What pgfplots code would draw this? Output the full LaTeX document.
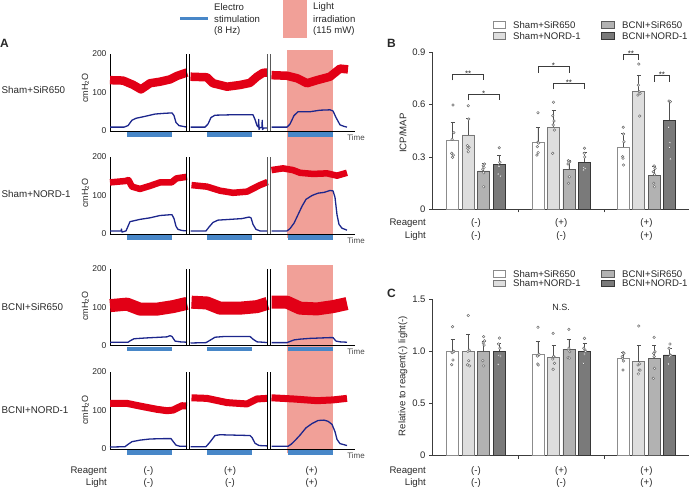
\documentclass[border=0pt]{standalone}
\usepackage{pgfplots}
\usepackage{pgfplotstable}
\pgfplotsset{compat=1.18}
\usepackage{fontspec}
\setmainfont{Liberation Sans}

\definecolor{txt}{RGB}{40,40,40}
\definecolor{tred}{RGB}{226,0,22}
\definecolor{tblue}{RGB}{28,38,140}
\definecolor{stim}{RGB}{72,135,200}
\definecolor{pinkL}{RGB}{241,160,152}
\definecolor{fW}{RGB}{255,255,255}
\definecolor{fL}{RGB}{222,222,222}
\definecolor{fM}{RGB}{178,178,178}
\definecolor{fD}{RGB}{122,122,122}
\definecolor{eW}{RGB}{140,140,140}
\definecolor{eL}{RGB}{120,120,120}
\definecolor{eM}{RGB}{90,90,90}
\definecolor{eD}{RGB}{55,55,55}
\definecolor{axc}{RGB}{60,60,60}
\definecolor{errc}{RGB}{80,80,80}
\definecolor{dotc}{RGB}{110,110,110}

\newcommand{\fs}[1]{\fontsize{#1}{#1}\selectfont}

\tikzset{brk/.style={black, line width=0.7pt}}
\pgfplotsset{
  trace/.style={scale only axis, width=245pt, height=77pt, xmin=110, xmax=355, ymin=0, ymax=200,
    axis x line=bottom, axis y line=left, axis line style={-, black, line width=0.7pt},
    xtick=\empty, ytick={0,100,200}, major tick length=0pt,
    yticklabel style={font=\fs{8.5}, text=txt},
    /pgf/number format/assume math mode=true,
    clip=false, anchor=south west},
  rtr/.style={tred, line width=#1, line join=round},
  btr/.style={tblue, line width=1.3pt, line join=round},
  stimbar/.style={stim, line width=4.5pt},
  barax/.style={scale only axis, width=257pt, xmin=-0.516, xmax=2.499, ymin=0,
    axis x line=bottom, axis y line=left, axis line style={-, axc, line width=0.7pt},
    xtick={0.5,1.5}, xticklabels={}, tick align=outside, major tick length=3pt,
    tick style={axc, line width=0.7pt},
    yticklabel style={font=\fs{9.5}, text=txt},
    /pgf/number format/assume math mode=true,
    clip=false, anchor=south west},
  bb/.style 2 args={ybar, bar width=12pt, fill=#1, draw=#2, line width=0.8pt,
    error bars/.cd, y dir=plus, y explicit,
    error bar style={errc, line width=0.7pt},
    error mark options={errc, rotate=90, mark size=2pt, line width=0.7pt}},
  dots/.style={only marks, mark=*, mark size=1.3pt, mark options={fill=white, draw=dotc, line width=0.5pt}},
  sig/.style={axc, line width=0.7pt},
}

\pgfplotstableread{
xw w we xl l le xm m me xd d de
-0.273 0.397 0.101 -0.090 0.426 0.095 0.090 0.220 0.044 0.273 0.258 0.049
0.727 0.386 0.084 0.910 0.470 0.095 1.090 0.231 0.052 1.273 0.271 0.054
1.727 0.357 0.078 1.910 0.677 0.092 2.090 0.197 0.052 2.273 0.511 0.109
}\Bdata

\pgfplotstableread{
xw w we xl l le xm m me xd d de
-0.273 1.000 0.115 -0.090 1.000 0.166 0.090 1.000 0.100 0.273 1.000 0.077
0.727 0.971 0.125 0.910 0.943 0.111 1.090 1.022 0.093 1.273 1.000 0.073
1.727 0.929 0.061 1.910 0.900 0.157 2.090 0.933 0.124 2.273 0.965 0.060
}\Cdata

\begin{document}
\begin{tikzpicture}
\useasboundingbox (0,0) rectangle (690pt,489pt);

% ---------- pink light areas ----------
\fill[pinkL] (287pt,251pt) rectangle (333pt,439pt);
\fill[pinkL] (287pt,36pt) rectangle (333pt,224pt);
\fill[pinkL] (283pt,451pt) rectangle (307pt,489pt);

% ---------- top legend A ----------
\draw[stim, line width=3pt] (180pt,470pt) -- (208pt,470pt);
\begin{scope}[every node/.style={font=\fs{9.6}, text=txt, anchor=west, inner sep=0pt}]
\node at (214pt,482pt) {Electro};
\node at (214pt,470pt) {stimulation};
\node at (214pt,458pt) {(8 Hz)};
\node at (313pt,482pt) {Light};
\node at (313pt,470pt) {irradiation};
\node at (313pt,458pt) {(115 mW)};
\end{scope}

% ---------- panel letters ----------
\node[anchor=west, inner sep=0pt, font=\fs{12}\bfseries, text=txt] at (0pt,445.5pt) {A};
\node[anchor=west, inner sep=0pt, font=\fs{12}\bfseries, text=txt] at (387pt,445.5pt) {B};
\node[anchor=west, inner sep=0pt, font=\fs{12}\bfseries, text=txt] at (387pt,196pt) {C};

% ---------- row labels ----------
\begin{scope}[every node/.style={font=\fs{9.8}, text=txt, anchor=west, inner sep=0pt}]
\node at (1.5pt,399pt) {Sham+SiR650};
\node at (1.5pt,294.5pt) {Sham+NORD-1};
\node at (1.5pt,182pt) {BCNI+SiR650};
\node at (1.5pt,79pt) {BCNI+NORD-1};
\end{scope}
\begin{scope}[every node/.style={font=\fs{9}, text=txt, rotate=90, inner sep=0pt}]
\node at (85.5pt,401pt) {cmH\textsubscript{2}O};
\node at (85.5pt,296pt) {cmH\textsubscript{2}O};
\node at (85.5pt,183pt) {cmH\textsubscript{2}O};
\node at (85.5pt,79pt) {cmH\textsubscript{2}O};
\end{scope}

% ---------- Row 1 ----------
\begin{axis}[trace, at={(110pt,358pt)}]
\addplot[rtr=8.5pt] coordinates {(110,132) (123,131) (133,120) (141,108) (150,124) (160,128) (170,134) (177,143) (187,152)};
\addplot[rtr=8.5pt] coordinates {(190.5,141) (207,139.5) (213,124) (227,115) (240,119.5) (250,125) (257,141) (263,151) (267.5,152)};
\addplot[rtr=8.5pt] coordinates {(271.5,145) (287,143.5) (297,137) (307,124) (317,132) (330,141) (340,162) (348,160)};
\addplot[btr] coordinates {(110,10) (124,10) (128,14) (132,28) (136,33) (145,38) (155,44) (165,46) (172,47) (174,40) (176,22) (179,14) (187,10)};
\addplot[btr] coordinates {(190.5,10) (205,10) (208,18) (211,35) (215,41) (230,42) (245,42) (253,42) (255,30) (257,14) (258.5,10) (258.7,30) (259,4) (260,9) (262,9) (262.2,28) (262.5,4) (264,8) (267.5,8)};
\addplot[btr] coordinates {(271.5,10) (287,10) (290,18) (294,40) (298,50) (310,50) (320,54) (330,55) (333,52) (336,35) (340,16) (344,12) (347,10)};
\addplot[stimbar] coordinates {(127,-9) (172,-9)};
\addplot[stimbar] coordinates {(207,-9) (252,-9)};
\addplot[stimbar] coordinates {(288,-9) (333,-9)};
\draw[brk] (axis cs:186.8,0) -- (axis cs:186.8,200);
\draw[brk] (axis cs:189.3,0) -- (axis cs:189.3,200);
\draw[brk, gray!70!black] (axis cs:267.8,0) -- (axis cs:267.8,200);
\draw[brk, gray!70!black] (axis cs:270.3,0) -- (axis cs:270.3,200);
\node[font=\fs{8}, text=txt!85, inner sep=0pt] at (axis cs:356,-16) {Time};
\end{axis}

% ---------- Row 2 ----------
\begin{axis}[trace, at={(110pt,255pt)}]
\addplot[rtr=6.5pt] coordinates {(110,134) (125,137.5) (128.5,140) (132,123) (140,117) (150,125) (160,134) (171.5,134) (176.5,144.5) (187,148.5)};
\addplot[rtr=6.5pt] coordinates {(191.5,127) (207,123) (220,112.5) (233,107) (247,110) (260,127) (267.5,135)};
\addplot[rtr=6.5pt] coordinates {(271.5,166) (283,170.5) (293,166) (300,159) (313,156) (327,157.5) (337,151.5) (347,159)};
\addplot[btr] coordinates {(110,8) (121,8) (121.5,13) (122,5) (126,8) (128,20) (130,32) (140,38) (150,42) (160,48) (170,50) (172,50) (174,40) (176,20) (178,12) (182,9) (187,8)};
\addplot[btr] coordinates {(190.5,8) (206,8) (209,18) (213,30) (218,36) (230,38) (242,40) (249,44) (251,42) (253,25) (256,12) (260,8) (267.5,8)};
\addplot[btr] coordinates {(271.5,8) (287,8) (290,14) (294,28) (298,50) (302,72) (306,90) (312,100) (318,106) (324,108) (330,113) (333,112) (335,95) (337,50) (339,25) (342,15) (347,10)};
\addplot[stimbar] coordinates {(127,-9) (172,-9)};
\addplot[stimbar] coordinates {(207,-9) (252,-9)};
\addplot[stimbar] coordinates {(288,-9) (333,-9)};
\draw[brk] (axis cs:186.8,0) -- (axis cs:186.8,200);
\draw[brk] (axis cs:189.3,0) -- (axis cs:189.3,200);
\draw[brk, gray!70!black] (axis cs:267.8,0) -- (axis cs:267.8,200);
\draw[brk, gray!70!black] (axis cs:270.3,0) -- (axis cs:270.3,200);
\node[font=\fs{8}, text=txt!85, inner sep=0pt] at (axis cs:356,-16) {Time};
\end{axis}

% ---------- Row 3 ----------
\begin{axis}[trace, at={(110pt,143.3pt)}]
\addplot[rtr=13pt] coordinates {(110,104) (127,108) (140,95) (157,95) (173,101.5) (187,110)};
\addplot[rtr=13pt] coordinates {(191.5,113) (207,111) (220,97.5) (240,97.5) (257,101.5) (267.5,110)};
\addplot[rtr=13pt] coordinates {(271.5,113) (287,113) (300,97.5) (317,95.5) (333,101.5) (347,109.5)};
\addplot[btr] coordinates {(110,9) (128,9) (131,14) (134,18) (145,20) (160,22) (167,23) (170,26) (172,24) (175,12) (180,10) (187,9)};
\addplot[btr] coordinates {(190.5,7) (206,8) (210,14) (215,22) (225,24) (240,24) (250,24) (253,17) (257,10) (263,9) (267.5,8)};
\addplot[btr] coordinates {(271.5,8) (287,8) (290,11) (294,15) (300,17) (310,19) (320,20) (330,21) (333,21) (336,12) (340,10) (347,9)};
\addplot[stimbar] coordinates {(127,-9) (172,-9)};
\addplot[stimbar] coordinates {(207,-9) (252,-9)};
\addplot[stimbar] coordinates {(288,-9) (333,-9)};
\draw[brk] (axis cs:186.8,0) -- (axis cs:186.8,200);
\draw[brk] (axis cs:189.3,0) -- (axis cs:189.3,200);
\draw[brk] (axis cs:267.8,0) -- (axis cs:267.8,200);
\draw[brk] (axis cs:270.3,0) -- (axis cs:270.3,200);
\node[font=\fs{8}, text=txt!85, inner sep=0pt] at (axis cs:356,-16) {Time};
\end{axis}

% ---------- Row 4 ----------
\begin{axis}[trace, at={(110pt,40pt)}]
\addplot[rtr=7pt] coordinates {(110,118.5) (127,118.5) (140,111.5) (157,103) (167,99.5) (173,101) (182,112.5) (187,111.5)};
\addplot[rtr=7pt] coordinates {(191.5,133) (207,131.5) (227,120.5) (247,117) (257,130) (267.5,131.5)};
\addplot[rtr=7pt] coordinates {(271.5,133) (293,130) (317,125.5) (333,127.5) (347,131.5)};
\addplot[btr] coordinates {(110,5) (125,6) (128,12) (132,19) (140,23) (150,26) (165,27) (171,27) (173,20) (176,10) (180,7) (187,7)};
\addplot[btr] coordinates {(190.5,6) (206,6) (210,18) (215,35) (220,37) (235,36) (250,35) (252,30) (255,15) (259,9) (267.5,8)};
\addplot[btr] coordinates {(271.5,7) (288,7) (291,12) (295,22) (300,36) (306,55) (312,66) (318,74) (324,75) (328,72) (332,64) (335,45) (337,25) (340,14) (347,9)};
\addplot[stimbar] coordinates {(127,-9) (172,-9)};
\addplot[stimbar] coordinates {(207,-9) (252,-9)};
\addplot[stimbar] coordinates {(288,-9) (333,-9)};
\draw[brk] (axis cs:186.8,0) -- (axis cs:186.8,200);
\draw[brk] (axis cs:189.3,0) -- (axis cs:189.3,200);
\draw[brk] (axis cs:267.8,0) -- (axis cs:267.8,200);
\draw[brk] (axis cs:270.3,0) -- (axis cs:270.3,200);
\node[font=\fs{8}, text=txt!85, inner sep=0pt] at (axis cs:356,-16) {Time};
\end{axis}

% Reagent / Light rows for A
\begin{scope}[every node/.style={font=\fs{9.6}, text=txt, inner sep=0pt}]
\node[anchor=east] at (107pt,18pt) {Reagent};
\node[anchor=east] at (107pt,6pt) {Light};
\node at (148.5pt,18pt) {(-)}; \node at (148.5pt,6pt) {(-)};
\node at (230pt,18pt) {(+)};  \node at (230pt,6pt) {(-)};
\node at (311.5pt,18pt) {(+)}; \node at (311.5pt,6pt) {(+)};
\end{scope}

% ---------- Panel B ----------
\begin{axis}[barax, at={(432pt,279.5pt)}, height=157.5pt, ymax=0.9,
  ytick={0,0.3,0.6,0.9}, yticklabels={0,0.3,0.6,0.9}]
\addplot[bb={fW}{eW}] table[x=xw, y=w, y error=we] {\Bdata};
\addplot[bb={fL}{eL}] table[x=xl, y=l, y error=le] {\Bdata};
\addplot[bb={fM}{eM}] table[x=xm, y=m, y error=me] {\Bdata};
\addplot[bb={fD}{eD}] table[x=xd, y=d, y error=de] {\Bdata};
\addplot[dots] coordinates {
(-0.27,0.597) (-0.26,0.439) (-0.28,0.401) (-0.285,0.321) (-0.265,0.311) (-0.275,0.298)
(-0.09,0.593) (-0.085,0.517) (-0.1,0.365) (-0.08,0.355) (-0.095,0.35) (-0.09,0.33)
(0.1,0.26) (0.085,0.25) (0.095,0.24) (0.08,0.23) (0.09,0.21) (0.09,0.13)
(0.273,0.353) (0.28,0.27) (0.265,0.25) (0.27,0.245) (0.26,0.203) (0.285,0.191)
(0.727,0.553) (0.725,0.384) (0.735,0.38) (0.72,0.359) (0.73,0.325) (0.715,0.311)
(0.91,0.613) (0.9,0.536) (0.915,0.506) (0.905,0.483) (0.92,0.454) (0.9,0.321)
(1.085,0.279) (1.1,0.273) (1.09,0.27) (1.095,0.187) (1.085,0.15) (1.08,0.26)
(1.273,0.35) (1.27,0.321) (1.265,0.241) (1.28,0.235) (1.26,0.226) (1.275,0.3)
(1.727,0.47) (1.73,0.431) (1.735,0.387) (1.72,0.302) (1.725,0.293) (1.73,0.254)
(1.91,0.831) (1.905,0.711) (1.915,0.673) (1.925,0.664) (1.9,0.654) (1.92,0.534)
(2.09,0.249) (2.1,0.235) (2.08,0.216) (2.095,0.2) (2.085,0.15) (2.095,0.13)
(2.265,0.62) (2.28,0.616) (2.26,0.47) (2.275,0.384) (2.27,0.355) (2.28,0.289)};
% significance brackets
\addplot[sig] coordinates {(-0.273,0.738) (-0.273,0.773) (0.09,0.773) (0.09,0.738)};
\addplot[sig] coordinates {(-0.09,0.623) (-0.09,0.658) (0.273,0.658) (0.273,0.623)};
\addplot[sig] coordinates {(0.727,0.781) (0.727,0.816) (1.09,0.816) (1.09,0.781)};
\addplot[sig] coordinates {(0.91,0.686) (0.91,0.721) (1.273,0.721) (1.273,0.686)};
\addplot[sig] coordinates {(1.727,0.854) (1.727,0.889) (1.91,0.889) (1.91,0.854)};
\addplot[sig] coordinates {(2.09,0.73) (2.09,0.765) (2.273,0.765) (2.273,0.73)};
\begin{scope}[every node/.style={font=\fs{8}, text=txt, anchor=base, inner sep=0pt}]
\node[yshift=-2.2pt] at (axis cs:-0.091,0.773) {**};
\node[yshift=-2.2pt] at (axis cs:0.091,0.658) {*};
\node[yshift=-2.2pt] at (axis cs:0.909,0.816) {*};
\node[yshift=-2.2pt] at (axis cs:1.091,0.721) {**};
\node[yshift=-2.2pt] at (axis cs:1.818,0.889) {**};
\node[yshift=-2.2pt] at (axis cs:2.182,0.765) {**};
\end{scope}
\begin{scope}[every node/.style={font=\fs{9.6}, text=txt, inner sep=0pt}]
\node[yshift=-14pt] at (axis cs:0,0) {(-)};  \node[yshift=-27pt] at (axis cs:0,0) {(-)};
\node[yshift=-14pt] at (axis cs:1,0) {(+)};  \node[yshift=-27pt] at (axis cs:1,0) {(-)};
\node[yshift=-14pt] at (axis cs:2,0) {(+)};  \node[yshift=-27pt] at (axis cs:2,0) {(+)};
\end{scope}
\end{axis}

% ---------- Panel C ----------
\begin{axis}[barax, at={(432pt,33.3pt)}, height=156.6pt, ymax=1.5,
  ytick={0,0.5,1,1.5}, yticklabels={0,0.5,1.0,1.5}]
\addplot[bb={fW}{eW}] table[x=xw, y=w, y error=we] {\Cdata};
\addplot[bb={fL}{eL}] table[x=xl, y=l, y error=le] {\Cdata};
\addplot[bb={fM}{eM}] table[x=xm, y=m, y error=me] {\Cdata};
\addplot[bb={fD}{eD}] table[x=xd, y=d, y error=de] {\Cdata};
\addplot[dots] coordinates {
(-0.275,1.236) (-0.265,0.996) (-0.28,0.987) (-0.27,0.917) (-0.285,0.872) (-0.26,1.0)
(-0.09,1.343) (-0.08,1.01) (-0.095,1.0) (-0.085,0.91) (-0.1,0.87) (-0.075,0.86)
(0.09,1.14) (0.1,1.10) (0.085,1.08) (0.095,1.06) (0.08,0.91) (0.09,0.86)
(0.275,1.127) (0.265,1.07) (0.28,1.03) (0.27,0.958) (0.285,0.955) (0.26,0.875)
(0.727,1.23) (0.735,0.964) (0.72,0.955) (0.725,0.878) (0.73,0.869) (0.74,0.97)
(0.905,1.172) (0.915,0.948) (0.9,0.926) (0.92,0.885) (0.905,0.828) (0.91,0.95)
(1.09,1.21) (1.085,1.012) (1.1,0.996) (1.08,0.939) (1.095,0.935) (1.09,1.03)
(1.273,1.124) (1.265,1.029) (1.28,1.012) (1.27,0.974) (1.26,0.885) (1.285,1.0)
(1.727,0.987) (1.735,0.981) (1.72,0.933) (1.73,0.907) (1.725,0.821) (1.715,0.95)
(1.91,1.242) (1.9,0.869) (1.915,0.821) (1.925,0.82) (1.905,0.783) (1.92,0.88)
(2.09,1.134) (2.1,0.996) (2.085,0.98) (2.095,0.837) (2.08,0.741) (2.09,0.95)
(2.275,1.07) (2.265,1.029) (2.28,0.964) (2.27,0.948) (2.26,0.878) (2.285,0.96)};
\node[font=\fs{9}, text=txt, inner sep=0pt] at (axis cs:1,1.424) {N.S.};
\begin{scope}[every node/.style={font=\fs{9.6}, text=txt, inner sep=0pt}]
\node[yshift=-15pt] at (axis cs:0,0) {(-)};  \node[yshift=-27pt] at (axis cs:0,0) {(-)};
\node[yshift=-15pt] at (axis cs:1,0) {(+)};  \node[yshift=-27pt] at (axis cs:1,0) {(-)};
\node[yshift=-15pt] at (axis cs:2,0) {(+)};  \node[yshift=-27pt] at (axis cs:2,0) {(+)};
\end{scope}
\end{axis}

% y labels and Reagent/Light labels B,C
\node[rotate=90, font=\fs{9.6}, text=txt, inner sep=0pt] at (403pt,356pt) {ICP/MAP};
\node[rotate=90, font=\fs{9.6}, text=txt, inner sep=0pt] at (403pt,113pt) {Relative to reagent(-) light(-)};
\begin{scope}[every node/.style={font=\fs{9.6}, text=txt, inner sep=0pt, anchor=east}]
\node at (426pt,265.5pt) {Reagent};
\node at (426pt,252.5pt) {Light};
\node at (426pt,18pt) {Reagent};
\node at (426pt,6pt) {Light};
\end{scope}

% legends B and C
\begin{scope}[line width=0.7pt]
\draw[fill=fW, draw=eW] (493.3pt,460.7pt) rectangle (505.7pt,467.3pt);
\draw[fill=fL, draw=eL] (493.3pt,449.7pt) rectangle (505.7pt,456.3pt);
\draw[fill=fM, draw=eM] (601.7pt,460.7pt) rectangle (614pt,467.3pt);
\draw[fill=fD, draw=eD] (601.7pt,449.7pt) rectangle (614pt,456.3pt);
\draw[fill=fW, draw=eW] (493.3pt,211.7pt) rectangle (505.7pt,218.3pt);
\draw[fill=fL, draw=eL] (493.3pt,202.2pt) rectangle (505.7pt,208.8pt);
\draw[fill=fM, draw=eM] (601.7pt,211.7pt) rectangle (614pt,218.3pt);
\draw[fill=fD, draw=eD] (601.7pt,202.2pt) rectangle (614pt,208.8pt);
\end{scope}
\begin{scope}[every node/.style={font=\fs{9.6}, text=txt, inner sep=0pt, anchor=west}]
\node at (513pt,464pt) {Sham+SiR650};
\node at (513pt,453pt) {Sham+NORD-1};
\node at (622pt,464pt) {BCNI+SiR650};
\node at (622pt,453pt) {BCNI+NORD-1};
\node at (513pt,215pt) {Sham+SiR650};
\node at (513pt,205.5pt) {Sham+NORD-1};
\node at (622pt,215pt) {BCNI+SiR650};
\node at (622pt,205.5pt) {BCNI+NORD-1};
\end{scope}
\end{tikzpicture}
\end{document}
